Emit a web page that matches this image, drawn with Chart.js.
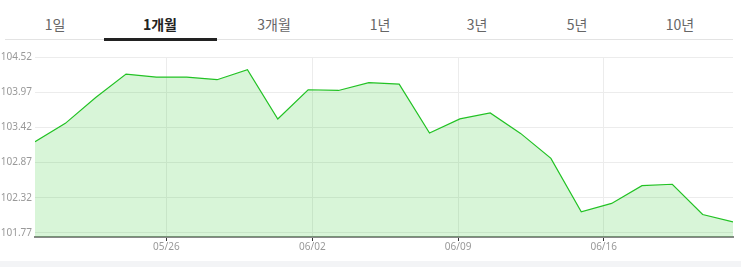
<!DOCTYPE html>
<html lang="ko">
<head>
    <meta charset="UTF-8">
    <title>1개월 차트</title>
    <style>
        body { margin: 0; width: 741px; height: 267px; background: #fff; position: relative; overflow: hidden; }
        .tab { position: absolute; top: 14px; font: 14px "Noto Sans CJK KR", sans-serif; color: #666; transform: translateX(-50%); white-space: nowrap; }
        .tab.on { color: #222; font-weight: bold; }
        .rule { position: absolute; left: 5px; width: 728px; top: 39px; height: 1px; background: #e3e3e3; }
        .bar { position: absolute; left: 104px; width: 113px; top: 38px; height: 3px; background: #222; }
        .foot { position: absolute; left: 0; right: 0; top: 261px; bottom: 0; background: #f3f4f6; }
        #wrap { position: absolute; left: 0; top: 41px; width: 741px; height: 220px; }
    </style>
</head>
<body>
    <div id="tabs"></div>
    <div class="rule"></div>
    <div class="bar"></div>
    <div id="wrap"><canvas id="lineChart" width="741" height="220"></canvas></div>
    <div class="foot"></div>

    <script src="https://cdn.jsdelivr.net/npm/chart.js"></script>
    <script>
        // tabs across the top
        const tabNames = ['1일', '1개월', '3개월', '1년', '3년', '5년', '10년'];
        const tabCenters = [55, 160, 274, 380, 477, 577, 680];
        const activeTab = 1;

        // chart data
        const prices = [103.195, 103.483, 103.887, 104.253, 104.206, 104.206, 104.165, 104.322,
                        103.552, 104.008, 103.997, 104.118, 104.096, 103.332, 103.552, 103.646,
                        103.326, 102.936, 102.100, 102.232, 102.509, 102.531, 102.059, 101.943];
        const xLabels = ['05/26', '06/02', '06/09', '06/16'];
        const xTickPos = [4.33, 9.14, 13.94, 18.74];
        const yTicks = [101.77, 102.32, 102.87, 103.42, 103.97, 104.52];

        const tabs = document.getElementById('tabs');
        tabNames.forEach((name, i) => {
            const d = document.createElement('div');
            d.className = 'tab' + (i === activeTab ? ' on' : '');
            d.style.left = tabCenters[i] + 'px';
            d.textContent = name;
            tabs.appendChild(d);
        });

        const tickFont = { family: '"Noto Sans", sans-serif', size: 10 };

        new Chart(document.getElementById('lineChart').getContext('2d'), {
            type: 'line',
            data: {
                datasets: [{
                    data: prices.map((v, i) => ({ x: i, y: v })),
                    borderColor: '#22c224',
                    borderWidth: 1.2,
                    backgroundColor: 'rgba(40, 200, 40, 0.18)',
                    fill: 'start',
                    pointRadius: 0,
                    tension: 0
                }]
            },
            options: {
                responsive: false,
                animation: false,
                devicePixelRatio: 1,
                layout: { padding: { top: 16, right: 8, left: 0, bottom: 0 } },
                plugins: {
                    legend: { display: false },
                    tooltip: { enabled: false }
                },
                scales: {
                    x: {
                        type: 'linear',
                        min: 0,
                        max: prices.length - 1,
                        afterBuildTicks: s => { s.ticks = xTickPos.map(v => ({ value: v })); },
                        afterFit: s => { s.height = 24; },
                        ticks: {
                            color: '#999',
                            font: tickFont,
                            padding: 0,
                            maxRotation: 0,
                            callback: (v, i) => xLabels[i]
                        },
                        grid: { color: '#ececec', tickColor: '#333', tickLength: 4 },
                        border: { color: '#888', width: 2 }
                    },
                    y: {
                        min: 101.707,
                        max: 104.52,
                        afterBuildTicks: s => { s.ticks = yTicks.map(v => ({ value: v })); },
                        afterFit: s => { s.width = 35; },
                        ticks: {
                            color: '#999',
                            font: tickFont,
                            padding: 3,
                            callback: v => v.toFixed(2)
                        },
                        grid: { color: '#ececec', drawTicks: false },
                        border: { display: false }
                    }
                }
            }
        });
    </script>
</body>
</html>
